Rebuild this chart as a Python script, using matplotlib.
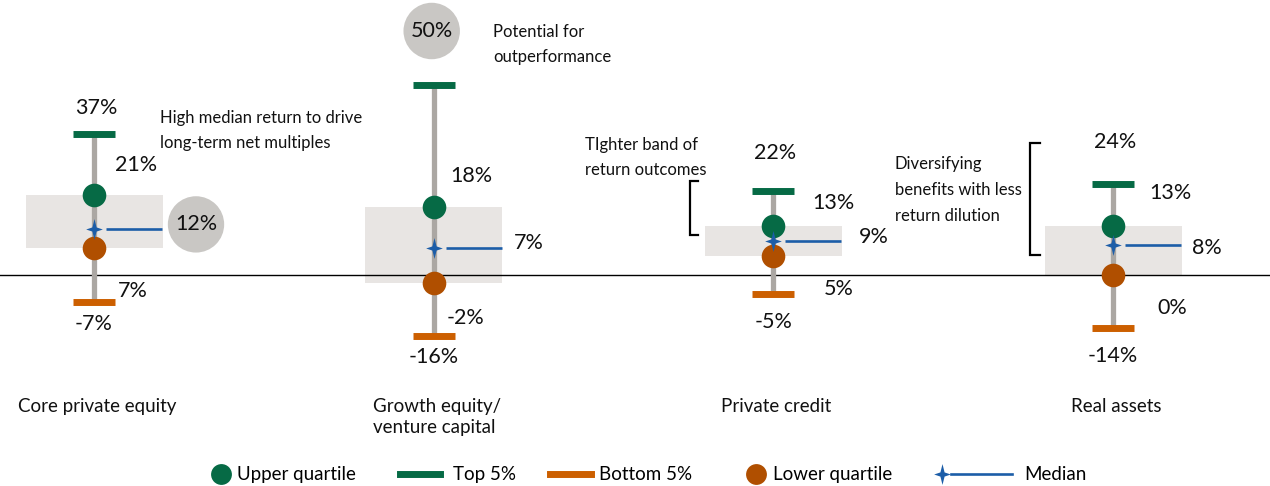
import numpy as np
import matplotlib.pyplot as plt

# Rendimientos por estrategia (%)
categories = ["Core private equity", "Growth equity/\nventure capital", "Private credit", "Real assets"]
top_5 = np.array([37, 50, 22, 24])
upper_q = np.array([21, 18, 13, 13])
median = np.array([12, 7, 9, 8])
lower_q = np.array([7, -2, 5, 0])
bottom_5 = np.array([-7, -16, -5, -14])

GREEN = "#066a45"
ORANGE = "#cc5f00"
BROWN = "#b04f00"
GREY = "#aba7a3"
BOX = "#e8e5e3"
BUBBLE = "#c9c7c4"
BLUE = "#1c5da8"

plt.rcParams['font.family'] = ['Lato', 'DejaVu Sans']

W, H = 1270, 486
step = 339.7  # px entre categorias
fig = plt.figure(figsize=(W / 100, H / 100), dpi=100)
ax = fig.add_axes([0, 0, 1, 1])
ax.axis('off')
ax.set_xlim(-94 / step, (W - 94) / step)
ax.set_ylim(-(H - 275) / 3.8, 275 / 3.8)

# capa en pixeles para notas y leyenda
lg = fig.add_axes([0, 0, 1, 1])
lg.axis('off')
lg.set_xlim(0, W)
lg.set_ylim(H, 0)

x = np.arange(len(categories))

ax.bar(x, upper_q - lower_q, bottom=lower_q, width=137 / step, color=BOX, zorder=1)
ax.axhline(0, color='black', lw=1.0, zorder=2)
ax.vlines(x, bottom_5, top_5, color=GREY, lw=3.8, zorder=3)
half = 21 / step
ax.hlines(top_5, x - half, x + half, color=GREEN, lw=5, zorder=4)
ax.hlines(bottom_5, x - half, x + half, color=ORANGE, lw=5, zorder=4)
ax.hlines(median, x + 12 / step, x + 68 / step, color=BLUE, lw=1.9, zorder=4)
ax.plot(x, upper_q, 'o', ms=17, color=GREEN, mec='none', zorder=5)
ax.plot(x, lower_q, 'o', ms=17, color=BROWN, mec='none', zorder=5)
star = [(0, 1), (0.2, 0.2), (0.8, 0), (0.2, -0.2), (0, -1),
        (-0.2, -0.2), (-0.8, 0), (-0.2, 0.2), (0, 1)]
ax.plot(x, median, ls='none', marker=star, ms=15, color=BLUE, mec='none', zorder=6)


def label(text, xv, yv, dx, dy, bubble=False):
    kw = {}
    if bubble:
        kw['bbox'] = dict(boxstyle='circle,pad=0.33', fc=BUBBLE, ec='none')
    ax.annotate(text, (xv, yv), xytext=(dx, -dy), textcoords='offset pixels',
                ha='center', va='center', fontsize=15.5, color='#111111', zorder=7, **kw)


# desplazamientos de las etiquetas (px)
top_dy = [-26, -54, -38, -42]
up_dx = [42, 38, 60, 57]
up_dy = [-30, -31, -23, -33]
low_dx = [39, 32, 65, 59]
low_dy = [43, 35, 33, 33]
bot_dy = [22, 21, 28, 28]
med_dx = [102, 95, 100, 94]
med_dy = [-5, -5, -4, 3]

for i in x:
    label(f"{top_5[i]}%", i, top_5[i], -2 if i == 1 else 2, top_dy[i], bubble=(i == 1))
    label(f"{upper_q[i]}%", i, upper_q[i], up_dx[i], up_dy[i])
    label(f"{median[i]}%", i, median[i], med_dx[i], med_dy[i], bubble=(i == 0))
    label(f"{lower_q[i]}%", i, lower_q[i], low_dx[i], low_dy[i])
    label(f"{bottom_5[i]}%", i, bottom_5[i], 0, bot_dy[i])
    ax.text(i + 3 / step, 1 - 398 / H, categories[i], transform=ax.get_xaxis_transform(),
            ha='center', va='top', multialignment='left', fontsize=13.5,
            linespacing=1.3, color='#111111')

# notas
notes = [
    (160, 130.5, "High median return to drive\nlong-term net multiples"),
    (493, 44.5, "Potential for\noutperformance"),
    (585, 157.5, "TIghter band of\nreturn outcomes"),
    (895, 190, "Diversifying\nbenefits with less\nreturn dilution"),
]
for nx, ny, txt in notes:
    lg.text(nx, ny, txt, ha='left', va='center', fontsize=12, linespacing=1.75, color='#111111')

# corchetes
for bx, y0, y1, tick in [(690, 181, 235, 8), (1030, 143, 255, 10)]:
    lg.plot([bx + tick, bx, bx, bx + tick], [y0, y0, y1, y1], color='black', lw=1.6,
            solid_joinstyle='miter')

# leyenda
ly = 474
lg.plot([221], [ly], 'o', ms=15, color=GREEN, mec='none')
lg.text(237, ly, "Upper quartile", va='center', fontsize=13.5)
lg.plot([400, 440], [ly, ly], color=GREEN, lw=5)
lg.text(453, ly, "Top 5%", va='center', fontsize=13.5)
lg.plot([550, 591], [ly, ly], color=ORANGE, lw=5)
lg.text(599, ly, "Bottom 5%", va='center', fontsize=13.5)
lg.plot([756], [ly], 'o', ms=15, color=BROWN, mec='none')
lg.text(773, ly, "Lower quartile", va='center', fontsize=13.5)
lg.plot([951, 1012], [ly, ly], color=BLUE, lw=1.9)
lg.plot([942], [ly], ls='none', marker=star, ms=15, color=BLUE, mec='none')
lg.text(1024, ly, "Median", va='center', fontsize=13.5)

fig.savefig("out.png", dpi=100, facecolor='white')
